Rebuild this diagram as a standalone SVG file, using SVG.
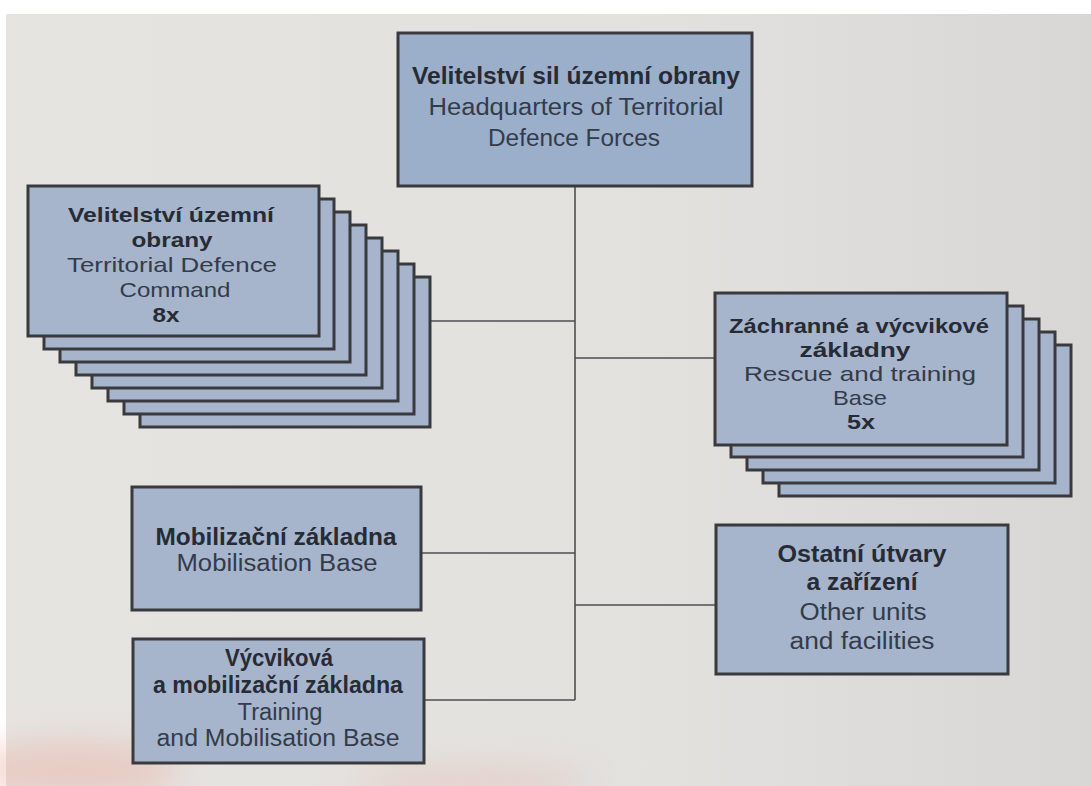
<svg xmlns="http://www.w3.org/2000/svg" width="1091" height="786" viewBox="0 0 1091 786">
<defs>
<linearGradient id="page" x1="0" y1="0" x2="1" y2="0">
<stop offset="0" stop-color="#e6e4e1"/>
<stop offset="0.6" stop-color="#e2e1de"/>
<stop offset="1" stop-color="#d8d7d5"/>
</linearGradient>
<filter id="blur" x="-50%" y="-50%" width="200%" height="200%"><feGaussianBlur stdDeviation="16"/></filter>
<style>
.box{fill:#a6b5cb;stroke:#3a3a3e;stroke-width:3}
.hq{fill:#9bafcb;stroke:#3a3a3e;stroke-width:3}
.b{font-family:"Liberation Sans",Arial,sans-serif;font-weight:bold;font-size:23px;fill:#272b35;text-anchor:middle}
.r{font-family:"Liberation Sans",Arial,sans-serif;font-size:23px;fill:#343b4a;text-anchor:middle}
.s{font-size:21px}
.conn{stroke:#4e4e52;stroke-width:1.6;fill:none}
</style>
</defs>
<rect x="0" y="0" width="1091" height="786" fill="#ffffff"/>
<rect x="6" y="14" width="1085" height="772" fill="url(#page)"/>
<g filter="url(#blur)" opacity="0.4">
<ellipse cx="70" cy="770" rx="110" ry="30" fill="#e9a99a"/>
<ellipse cx="470" cy="782" rx="120" ry="14" fill="#e6b0a6"/>
</g>

<g id="connectors">
<line class="conn" x1="575" y1="186" x2="575" y2="700"/>
<line class="conn" x1="430" y1="321" x2="575" y2="321"/>
<line class="conn" x1="575" y1="358" x2="715" y2="358"/>
<line class="conn" x1="421" y1="553" x2="575" y2="553"/>
<line class="conn" x1="575" y1="605" x2="716" y2="605"/>
<line class="conn" x1="424" y1="700" x2="575" y2="700"/>
</g>

<g id="hq">
<rect class="hq" x="398" y="33" width="354" height="153"/>
<text class="b" x="576" y="84" textLength="328" lengthAdjust="spacingAndGlyphs">Velitelství sil územní obrany</text>
<text class="r" x="576" y="115" textLength="295" lengthAdjust="spacingAndGlyphs">Headquarters of Territorial</text>
<text class="r" x="574" y="146" textLength="172" lengthAdjust="spacingAndGlyphs">Defence Forces</text>
</g>

<g id="territorial-command">
<rect class="box" x="140" y="277" width="290" height="150"/>
<rect class="box" x="124" y="264" width="290" height="150"/>
<rect class="box" x="108" y="251" width="290" height="150"/>
<rect class="box" x="92" y="238" width="290" height="150"/>
<rect class="box" x="76" y="225" width="290" height="150"/>
<rect class="box" x="60" y="212" width="290" height="150"/>
<rect class="box" x="44" y="199" width="290" height="150"/>
<rect class="box" x="28" y="186" width="291" height="150"/>
<text class="b s" x="171" y="222" textLength="206" lengthAdjust="spacingAndGlyphs">Velitelství územní</text>
<text class="b s" x="172" y="247" textLength="81" lengthAdjust="spacingAndGlyphs">obrany</text>
<text class="r s" x="172" y="272" textLength="210" lengthAdjust="spacingAndGlyphs">Territorial Defence</text>
<text class="r s" x="175" y="297" textLength="111" lengthAdjust="spacingAndGlyphs">Command</text>
<text class="b s" x="166" y="322" textLength="27" lengthAdjust="spacingAndGlyphs">8x</text>
</g>

<g id="rescue-training">
<rect class="box" x="779" y="345" width="292" height="151"/>
<rect class="box" x="763" y="332" width="292" height="151"/>
<rect class="box" x="747" y="319" width="292" height="151"/>
<rect class="box" x="731" y="306" width="292" height="151"/>
<rect class="box" x="715" y="293" width="292" height="152"/>
<text class="b s" x="859" y="333" textLength="260" lengthAdjust="spacingAndGlyphs">Záchranné a výcvikové</text>
<text class="b s" x="855" y="357" textLength="111" lengthAdjust="spacingAndGlyphs">základny</text>
<text class="r s" x="860" y="381" textLength="232" lengthAdjust="spacingAndGlyphs">Rescue and training</text>
<text class="r s" x="860" y="405" textLength="54" lengthAdjust="spacingAndGlyphs">Base</text>
<text class="b s" x="861" y="429" textLength="28" lengthAdjust="spacingAndGlyphs">5x</text>
</g>

<g id="mobilisation-base">
<rect class="box" x="132" y="487" width="289" height="123"/>
<text class="b" x="276" y="545" textLength="241" lengthAdjust="spacingAndGlyphs">Mobilizační základna</text>
<text class="r" x="277" y="571" textLength="201" lengthAdjust="spacingAndGlyphs">Mobilisation Base</text>
</g>

<g id="training-mobilisation-base">
<rect class="box" x="133" y="639" width="291" height="124"/>
<text class="b" x="279" y="666" textLength="108" lengthAdjust="spacingAndGlyphs">Výcviková</text>
<text class="b" x="278" y="693" textLength="250" lengthAdjust="spacingAndGlyphs">a mobilizační základna</text>
<text class="r" x="280" y="720" textLength="85" lengthAdjust="spacingAndGlyphs">Training</text>
<text class="r" x="278" y="746" textLength="243" lengthAdjust="spacingAndGlyphs">and Mobilisation Base</text>
</g>

<g id="other-units">
<rect class="box" x="716" y="525" width="292" height="149"/>
<text class="b" x="862" y="562" textLength="169" lengthAdjust="spacingAndGlyphs">Ostatní útvary</text>
<text class="b" x="862" y="590" textLength="111" lengthAdjust="spacingAndGlyphs">a zařízení</text>
<text class="r" x="863" y="620" textLength="127" lengthAdjust="spacingAndGlyphs">Other units</text>
<text class="r" x="862" y="649" textLength="145" lengthAdjust="spacingAndGlyphs">and facilities</text>
</g>
</svg>
